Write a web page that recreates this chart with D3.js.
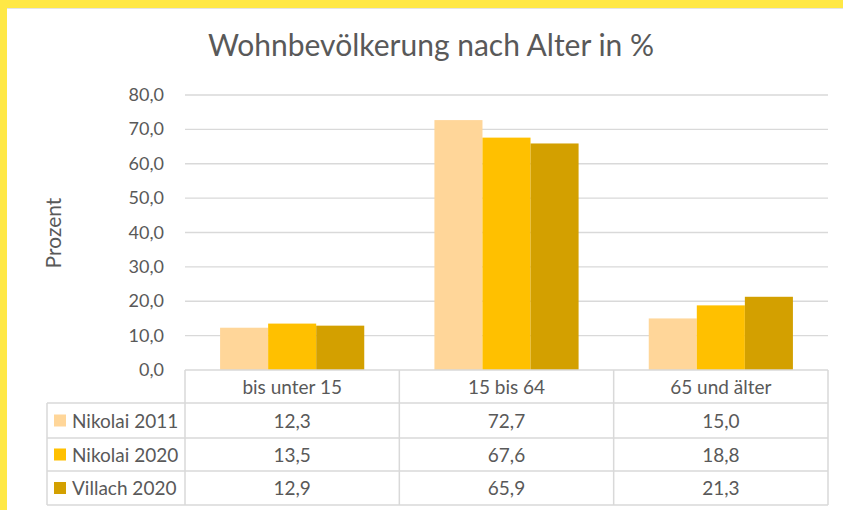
<!DOCTYPE html>
<html>
<head>
<meta charset="utf-8">
<script src="https://cdn.jsdelivr.net/npm/d3@7"></script>
<style>
  body { margin: 0; background: #fff; }
  text { font-family: "Lato", "Open Sans", sans-serif; fill: #595959; }
</style>
</head>
<body>
<div id="chart"></div>
<script>

// data
const categories = ["bis unter 15", "15 bis 64", "65 und älter"];
const seriesNames = ["Nikolai 2011", "Nikolai 2020", "Villach 2020"];
const nikolai2011 = [12.3, 72.7, 15.0];
const nikolai2020 = [13.5, 67.6, 18.8];
const villach2020 = [12.9, 65.9, 21.3];
const yTicks = [0, 10, 20, 30, 40, 50, 60, 70, 80];

const seriesValues = [nikolai2011, nikolai2020, villach2020];
const colors = ["#FFD699", "#FFC000", "#D3A000"];

const W = 843, H = 510;
const fmt = v => v.toFixed(1).replace(".", ",");

const svg = d3.select("#chart").append("svg").attr("width", W).attr("height", H);

// yellow frame
svg.append("rect").attr("x", 0).attr("y", 0).attr("width", W).attr("height", 8).attr("fill", "#FFE845");
svg.append("rect").attr("x", 0).attr("y", 0).attr("width", 7).attr("height", H).attr("fill", "#FFE845");
svg.append("line").attr("x1", 7).attr("x2", W).attr("y1", 8.5).attr("y2", 8.5).attr("stroke", "#e4e4e4");

const plotLeft = 185, plotRight = 828, plotTop = 95, plotBottom = 370;

const x = d3.scaleBand().domain(categories).range([plotLeft, plotRight]).paddingInner(0).paddingOuter(0);
const xs = d3.scaleBand().domain(seriesNames).range([0, x.bandwidth()]).paddingInner(0).paddingOuter(0.73);
const y = d3.scaleLinear().domain([0, 80]).range([plotBottom, plotTop]);

// title
svg.append("text").attr("x", 431).attr("y", 56).attr("text-anchor", "middle")
   .style("font-size", "30px").text("Wohnbevölkerung nach Alter in %");

// gridlines
svg.append("g").selectAll("line").data(yTicks.filter(d => d > 0)).join("line")
   .attr("x1", plotLeft).attr("x2", plotRight)
   .attr("y1", d => y(d)).attr("y2", d => y(d))
   .attr("stroke", "#d9d9d9").attr("stroke-width", 1.3);

// y axis labels
svg.append("g").selectAll("text").data(yTicks).join("text")
   .attr("x", 164).attr("y", d => y(d) + 6).attr("text-anchor", "end")
   .style("font-size", "18px").text(d => fmt(d));

svg.append("text").attr("transform", "translate(61,233) rotate(-90)")
   .attr("text-anchor", "middle").style("font-size", "21px").text("Prozent");

// bars
const groups = svg.append("g").selectAll("g").data(categories).join("g")
   .attr("transform", d => `translate(${x(d)},0)`);
groups.selectAll("rect").data((c, ci) => seriesNames.map((s, si) => ({ s, si, v: seriesValues[si][ci] })))
   .join("rect")
   .attr("x", d => xs(d.s)).attr("width", xs.bandwidth())
   .attr("y", d => y(d.v)).attr("height", d => y(0) - y(d.v))
   .attr("fill", d => colors[d.si]);

// data table
const tableLeft = 47;
const rowEdges = [370, 403, 438, 471, 505];
const lineColor = "#d9d9d9";
const tbl = svg.append("g");

// horizontal lines
tbl.selectAll("line.h").data(rowEdges).join("line").attr("class", "h")
   .attr("x1", (d, i) => i === 0 ? plotLeft : tableLeft).attr("x2", plotRight)
   .attr("y1", d => d).attr("y2", d => d)
   .attr("stroke", lineColor).attr("stroke-width", 1.5);

// vertical lines
const colEdges = categories.map(c => x(c)).concat([plotRight]);
tbl.selectAll("line.v").data(colEdges).join("line").attr("class", "v")
   .attr("x1", d => d).attr("x2", d => d)
   .attr("y1", rowEdges[0]).attr("y2", rowEdges[4])
   .attr("stroke", lineColor).attr("stroke-width", 1.5);
tbl.append("line").attr("x1", tableLeft).attr("x2", tableLeft)
   .attr("y1", rowEdges[1]).attr("y2", rowEdges[4])
   .attr("stroke", lineColor).attr("stroke-width", 1.5);

// header
tbl.selectAll("text.cat").data(categories).join("text").attr("class", "cat")
   .attr("x", d => x(d) + x.bandwidth() / 2).attr("y", (rowEdges[0] + rowEdges[1]) / 2 + 7)
   .attr("text-anchor", "middle").style("font-size", "19px").text(d => d);

// rows
seriesNames.forEach((s, si) => {
  const yc = (rowEdges[si + 1] + rowEdges[si + 2]) / 2;
  tbl.append("rect").attr("x", 54).attr("y", yc - 6).attr("width", 12).attr("height", 12).attr("fill", colors[si]);
  tbl.append("text").attr("x", 72).attr("y", yc + 7).style("font-size", "19px").text(s);
  tbl.selectAll(null).data(categories).join("text")
     .attr("x", d => x(d) + x.bandwidth() / 2).attr("y", yc + 7)
     .attr("text-anchor", "middle").style("font-size", "19px")
     .text((d, ci) => fmt(seriesValues[si][ci]));
});

</script>
</body>
</html>
